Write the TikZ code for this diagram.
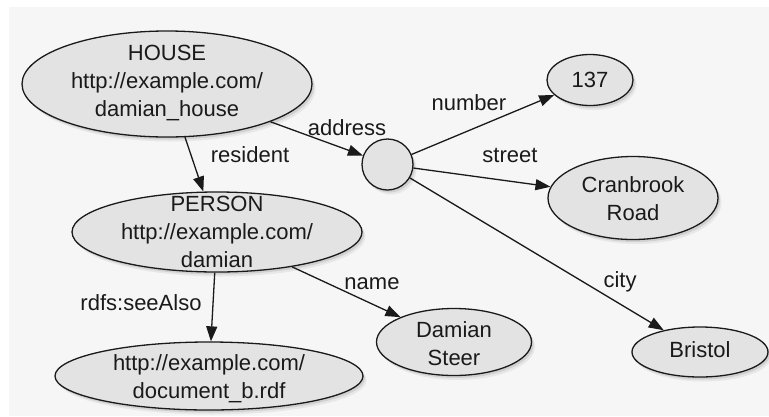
\documentclass[tikz,border=0pt]{standalone}
\usepackage{fontspec}
\setmainfont{Liberation Sans}
\usetikzlibrary{shapes.geometric,arrows.meta,shadows}
\definecolor{panel}{HTML}{F6F6F6}
\definecolor{nodefill}{HTML}{E3E3E3}
\definecolor{ink}{HTML}{1A1A1A}
\begin{document}
\begin{tikzpicture}[x=1pt,y=-1pt,
  font=\fontsize{22}{28}\selectfont,
  res/.style={ellipse, draw=ink, line width=1.3pt, fill=nodefill, inner sep=0pt,
    drop shadow={shadow xshift=2pt, shadow yshift=-2.5pt, opacity=0.22},
    drop shadow={shadow xshift=3.5pt, shadow yshift=-4.5pt, opacity=0.12}},
  blank/.style={res, circle},
  txt/.style={align=center, inner sep=0pt, text=ink},
  lbl/.style={inner sep=0pt, text=ink},
  rel/.style={draw=ink, line width=1.3pt, -{Triangle[length=15pt,width=11pt]}}
]
\useasboundingbox (0,0) rectangle (769,416);
\fill[panel] (9,7) rectangle (769,416);

% resources
\node[res, minimum width=290pt, minimum height=106pt] (house) at (167,84) {};
\node[res, minimum width=290pt, minimum height=80pt] (person) at (217,232) {};
\node[res, minimum width=308pt, minimum height=68pt] (doc) at (209,376) {};
\node[blank, minimum size=51pt] (addr) at (387.5,164.5) {};
\node[res, minimum width=86pt, minimum height=51pt] (num) at (590,80) {};
\node[res, minimum width=170pt, minimum height=83pt] (street) at (633,198) {};
\node[res, minimum width=155pt, minimum height=67pt] (fullname) at (454,342) {};
\node[res, minimum width=136pt, minimum height=50pt] (city) at (700,352) {};

% resource texts
\node[txt] (houseT) at (167,83) {HOUSE\\http://example.com/\\damian\_house};
\node[txt] (personT) at (217,232) {PERSON\\http://example.com/\\damian};
\node[txt] (docT) at (209,379) {http://example.com/\\document\_b.rdf};
\node[txt] (numT) at (590,80) {137};
\node[txt] (streetT) at (633,199) {Cranbrook\\Road};
\node[txt] (fullnameT) at (454,344) {Damian\\Steer};
\node[txt] (cityT) at (700,350) {Bristol};

% properties
\draw[rel] (house) -- (person);
\draw[rel] (house) -- (addr);
\draw[rel] (addr) -- (num);
\draw[rel] (addr) -- (street);
\draw[rel] (addr) -- (city);
\draw[rel] (person) -- (fullname);
\draw[rel] (person) -- (doc);

% property names
\node[lbl] (residentL) at (250,155) {resident};
\node[lbl] (addressL) at (347,128) {address};
\node[lbl] (numberL) at (469,103) {number};
\node[lbl] (streetL) at (510,155) {street};
\node[lbl] (cityL) at (620,282) {city};
\node[lbl] (nameL) at (372,284) {name};
\node[lbl] (seeAlsoL) at (141,303) {rdfs:seeAlso};
\end{tikzpicture}
\end{document}
